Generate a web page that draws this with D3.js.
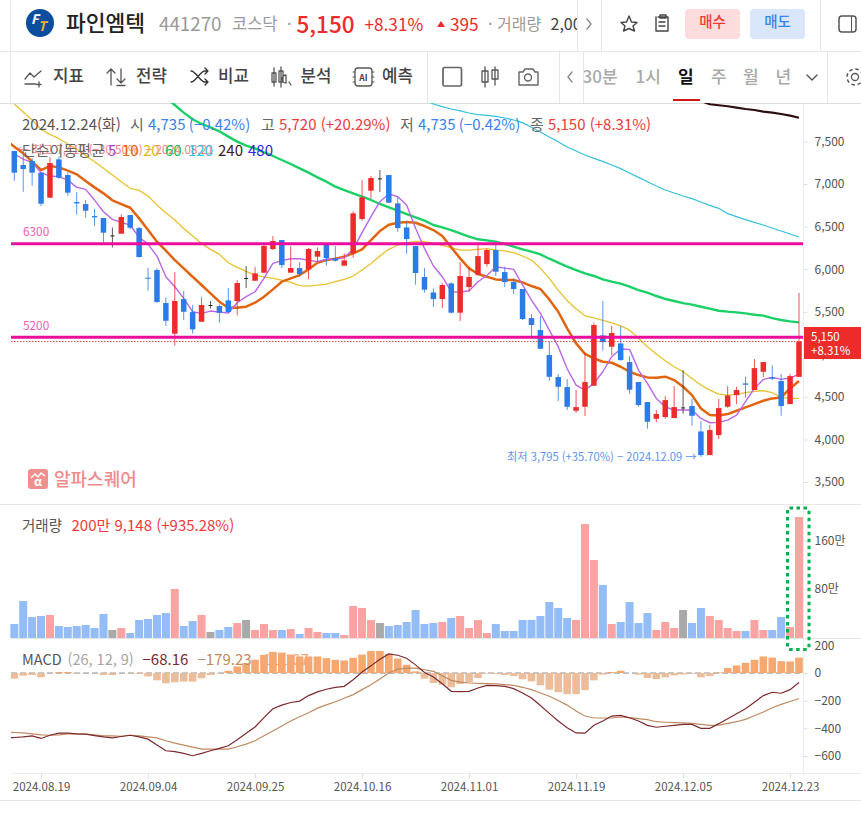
<!DOCTYPE html>
<html lang="ko"><head><meta charset="utf-8">
<script src="https://cdn.jsdelivr.net/npm/d3@7/dist/d3.min.js"></script>
<style>
html,body{margin:0;padding:0;background:#fff;overflow:hidden}
svg{display:block;font-family:"Noto Sans CJK KR","Noto Sans",sans-serif}
.axis path{display:none}
.axis text{font-family:"Noto Sans CJK KR","Noto Sans",sans-serif}
</style></head><body><div id="c"></div>
<script>
const opens=[7388,7224,7271,7134,6840,7290,7106,6789,6765,6624,6601,6397,6417,6636,6483,5900,5990,5602,5242,5649,5496,5383,5579,5567,5633,5626,5896,5864,5959,6237,6342,5959,6013,5998,6147,6288,6127,6041,6186,6589,6922,7067,7106,6773,6491,6272,5908,5727,5649,5833,5489,5790,5935,6060,6225,5966,5849,5767,5426,5285,4991,4733,4615,4337,4384,4631,5222,5089,5128,4909,4674,4439,4243,4263,4251,4376,4392,4094,3816,4051,4384,4521,4658,4580,4795,4729,4686,4415,4735];
const closes=[7134,7177,7134,6769,7247,7075,6899,6773,6687,6609,6429,6397,6613,6487,6143,5888,5614,5394,5626,5500,5293,5579,5579,5488,5496,5837,5896,5951,6272,6331,6049,6013,5943,6237,6213,6131,6100,6103,6656,6844,7071,7067,6781,6483,6354,5955,5759,5649,5814,5489,5919,5908,6154,6225,5970,5849,5767,5414,5344,5065,4736,4619,4384,4380,4674,5344,5144,5250,4932,4584,4404,4208,4298,4462,4380,4376,4278,3816,4110,4368,4517,4580,4643,4838,4909,4713,4392,4744,5150];
const highs=[7388,7400,7302,7134,7314,7322,7138,6906,6812,6707,6601,6491,6644,6636,6495,6013,6013,5669,5966,5743,5579,5669,5626,5586,5778,5872,6037,6025,6284,6389,6342,6272,6084,6248,6256,6288,6272,6186,6679,7047,7094,7165,7106,6852,6558,6272,6013,5774,5833,5845,6084,6029,6288,6241,6284,6029,5892,5767,5473,5449,5148,4768,4709,4580,5023,5375,5626,5332,5332,4979,4674,4439,4345,4509,4627,4815,4478,4216,4169,4474,4627,4619,4737,4944,4909,4870,4768,4768,5720];
const lows=[7040,6910,6981,6742,6840,7063,6863,6640,6605,6507,6319,6256,6417,6468,6135,5747,5606,5332,5101,5402,5242,5383,5539,5371,5488,5457,5778,5864,5951,6225,6013,5959,5912,5884,6088,6041,6088,6041,6135,6570,6832,6906,6781,6440,6182,5818,5724,5555,5543,5481,5391,5735,5927,6029,5919,5790,5708,5402,5214,5065,4689,4451,4345,4310,4274,4631,5042,4991,4925,4537,4384,4126,4204,4243,4251,4302,4161,3795,3816,4004,4372,4415,4490,4580,4733,4697,4278,4415,4735];
const ma5=[7353,7294,7255,7134,7094,7087,7047,6961,6938,6812,6675,6585,6550,6519,6374,6295,6154,5912,5794,5657,5500,5481,5508,5496,5485,5606,5677,5735,5892,6068,6100,6123,6123,6107,6088,6119,6115,6139,6233,6429,6617,6793,6883,6852,6754,6480,6244,6037,5912,5735,5731,5747,5853,5927,6029,6013,5998,5814,5637,5481,5285,5090,4830,4639,4580,4658,4795,4972,5062,5058,4815,4658,4482,4384,4345,4345,4345,4247,4196,4200,4227,4286,4443,4599,4705,4729,4705,4721,4768];
const ma10Start=-1;
const ma10=[7520,7439,7361,7263,7165,7212,7196,7157,7114,7036,6961,6891,6809,6765,6722,6597,6460,6323,6217,6107,6009,5911,5814,5716,5618,5547,5547,5559,5606,5677,5763,5853,5892,5931,5998,6076,6107,6123,6147,6186,6233,6342,6448,6523,6546,6554,6546,6507,6460,6389,6256,6127,6009,5943,5912,5880,5872,5872,5845,5802,5767,5645,5500,5304,5128,5005,4952,4913,4901,4854,4795,4756,4729,4725,4737,4697,4619,4521,4364,4286,4282,4298,4337,4376,4415,4454,4482,4494,4599,4686];
const ma20=[7941,7847,7753,7641,7584,7533,7470,7408,7337,7263,7185,7106,7028,6950,6926,6859,6754,6664,6577,6479,6389,6303,6233,6174,6076,6021,5974,5931,5911,5892,5872,5845,5806,5802,5814,5825,5853,5880,5919,5990,6068,6154,6233,6284,6311,6327,6323,6303,6280,6252,6225,6225,6233,6241,6225,6214,6194,6155,6108,6010,5892,5755,5630,5535,5452,5428,5400,5368,5334,5285,5187,5089,5003,4925,4854,4795,4717,4639,4580,4533,4521,4529,4549,4564,4572,4549,4494,4482,4482];
const ma60Start=17;
const ma60=[8010,7929,7839,7761,7706,7667,7620,7557,7498,7451,7420,7373,7330,7283,7236,7185,7134,7079,7028,6970,6930,6891,6852,6813,6766,6727,6688,6648,6609,6570,6519,6492,6460,6421,6382,6351,6339,6323,6296,6265,6233,6206,6174,6123,6076,6030,5990,5951,5920,5881,5853,5830,5794,5755,5724,5685,5650,5626,5602,5583,5559,5536,5512,5501,5493,5481,5465,5454,5426,5403,5387,5375];
const ma120Start=46;
const ma120=[7985,7941,7910,7882,7859,7835,7816,7808,7796,7776,7753,7722,7667,7612,7553,7498,7436,7389,7342,7302,7267,7224,7181,7130,7079,7028,6977,6930,6895,6860,6829,6789,6750,6715,6652,6617,6582,6550,6519,6484,6449,6413,6378];
const ma240Start=77;
const ma240=[7975,7937,7925,7914,7898,7882,7870,7851,7839,7823,7804,7780];
const volumesMan=[23.2,61.4,34.9,36.5,38.2,19.9,18.3,19.9,21.6,16.6,39.9,13.3,16.6,8.3,29.9,31.5,38.2,41.5,81.4,19.9,28.2,38.2,10,13.3,18.3,24.9,29.9,13.3,23.2,13.3,13.3,14.9,6.6,16.6,10,8.3,8.3,5,53.1,49.8,29.9,24.9,19.9,21.6,26.6,46.5,23.2,24.9,26.6,33.2,36.5,16.6,29.9,8.3,23.2,11.6,11.6,29.9,29.9,36.5,59.8,49.8,33.2,29.9,189.3,129.5,88,23.2,26.6,59.8,24.9,41.5,13.3,26.6,16.6,46.5,24.9,49.8,36.5,29.9,16.6,11.6,11.6,29.9,13.3,13.3,34.9,18.3,200.9];
const macdStart=-1;
const macdLine=[-470,-466,-462,-454,-473,-450,-435,-435,-440,-442,-452,-462,-469,-459,-450,-462,-478,-521,-562,-569,-581,-598,-581,-562,-545,-526,-483,-435,-390,-323,-258,-232,-213,-203,-163,-136,-117,-103,-96,-48,7,52,100,138,129,107,59,4,-29,-77,-132,-134,-132,-108,-89,-91,-96,-113,-144,-180,-235,-292,-347,-395,-433,-435,-378,-347,-311,-306,-323,-347,-378,-392,-385,-378,-371,-371,-400,-400,-366,-330,-294,-258,-211,-163,-139,-146,-120,-68];
const signalLine=[-428,-430,-433,-440,-447,-450,-447,-440,-440,-442,-447,-454,-454,-457,-450,-454,-462,-469,-490,-507,-521,-536,-550,-550,-550,-550,-533,-514,-490,-454,-419,-383,-347,-316,-287,-254,-230,-208,-182,-156,-120,-84,-43,0,28,35,35,24,12,-19,-53,-65,-72,-74,-77,-79,-84,-89,-103,-120,-144,-168,-199,-232,-275,-311,-325,-325,-325,-318,-323,-330,-337,-352,-356,-359,-361,-364,-371,-378,-376,-364,-352,-335,-309,-282,-251,-227,-206,-184];
const macdHist=[-41,-19,-14,-31,0,7,7,-5,0,0,-14,-14,0,-2,-7,-24,-53,-74,-67,-62,-62,-38,-14,-2,17,48,72,96,131,153,148,134,120,120,120,108,96,91,110,134,160,160,139,105,60,12,-41,-72,-84,-103,-79,-67,-36,-5,-7,-14,-22,-45,-60,-88,-120,-139,-153,-153,-124,-53,-12,7,17,0,-12,-36,-43,-31,-17,-10,-5,-31,-22,5,36,55,74,96,120,112,86,84,112];
const dateTickIdx=[3,15,27,39,51,63,75,87];
const dateTickLabels=["2024.08.19","2024.09.04","2024.09.25","2024.10.16","2024.11.01","2024.11.19","2024.12.05","2024.12.23"];
const priceTicks=[3500,4000,4500,5000,5500,6000,6500,7000,7500];
const volTicks=[80,160];
const macdTicks=[-600,-400,-200,0,200];
const hLevels=[6300,5200];
const lastClose=5150;

const W=861,H=814;
const svg=d3.select("#c").append("svg").attr("width",W).attr("height",H).attr("viewBox",[0,0,W,H]);
const RED="#ee2b2b",BLUE="#2b7be9",LINE="#e6e6e6";
const x=d3.scaleLinear().domain([0,88]).range([14.3,799]);
const y=d3.scaleLinear().domain([3500,7500]).range([482,141.5]);
const yVol=d3.scaleLinear().domain([0,200.9]).range([638,517]);
const yM=d3.scaleLinear().domain([-600,200]).range([756,645.4]);
const defs=svg.append("defs");
defs.append("clipPath").attr("id","pClip").append("rect").attr("x",11).attr("y",103).attr("width",792).attr("height",401);
defs.append("clipPath").attr("id","mClip").append("rect").attr("x",11).attr("y",640).attr("width",792).attr("height",133);
defs.append("clipPath").attr("id","hdClip").append("rect").attr("x",0).attr("y",0).attr("width",577).attr("height",51);
defs.append("clipPath").attr("id","tabClip").append("rect").attr("x",583.5).attr("y",52).attr("width",243).attr("height",51);

function rule(a,b,c,d,col){svg.append("line").attr("x1",a).attr("y1",b).attr("x2",c).attr("y2",d).attr("stroke",col||LINE).attr("stroke-width",1).attr("shape-rendering","crispEdges");}
function txt(g,s,tx,ty,size,col,opt){opt=opt||{};const t=g.append("text").attr("x",tx).attr("y",ty).attr("font-size",size).attr("fill",col).text(s);
 if(opt.w)t.attr("font-weight",opt.w); if(opt.a)t.attr("text-anchor",opt.a); if(opt.o)t.attr("opacity",opt.o); return t;}

// frame rules
rule(0,51.5,W,51.5);rule(0,103.5,W,103.5,"#dedede");
rule(10.5,0,10.5,103);
[577.5,601.5,820.5].forEach(v=>rule(v,0,v,51));
[427.5,559.5,583.5,827.5].forEach(v=>rule(v,52,v,103));
rule(803.5,104,803.5,773,"#ececec");
rule(0,504.5,W,504.5);rule(11,638.5,861,638.5);rule(11,773.5,861,773.5,"#ececec");rule(0,800.5,W,800.5);

// price pane
const pane=svg.append("g").attr("clip-path","url(#pClip)");
function lineOf(vals,start,yS){return d3.line().x((d,i)=>x(i+start)).y(d=>yS(d)).curve(d3.curveLinear)(vals);}
[[ma240,ma240Start,"#2d0d0f",2.1],[ma120,ma120Start,"#36bfe0",1.2],[ma60,ma60Start,"#1cd068",2.4],[ma20,0,"#e9c22f",1.3],[ma10,ma10Start,"#e1650f",2.5],[ma5,0,"#bb66e6",1.4]].forEach(s=>{
 pane.append("path").attr("d",lineOf(s[0],s[1],y)).attr("fill","none").attr("stroke",s[2]).attr("stroke-width",s[3]).attr("stroke-linejoin","round");
});
const idx=d3.range(opens.length);
const colorOf=i=>closes[i]>opens[i]?RED:closes[i]<opens[i]?BLUE:"#222";
pane.selectAll("line.w").data(idx).join("line").attr("class","w")
 .attr("x1",i=>x(i)).attr("x2",i=>x(i)).attr("y1",i=>y(highs[i])).attr("y2",i=>y(lows[i]))
 .attr("stroke",colorOf).attr("stroke-width",1).attr("stroke-opacity",i=>closes[i]===opens[i]?0.75:0.8);
pane.selectAll("rect.b").data(idx).join("rect").attr("class","b")
 .attr("x",i=>x(i)-(closes[i]===opens[i]?2:2.75)).attr("width",i=>closes[i]===opens[i]?4:5.5)
 .attr("y",i=>y(Math.max(opens[i],closes[i]))).attr("height",i=>Math.max(1,Math.abs(y(opens[i])-y(closes[i]))))
 .attr("fill",colorOf);
// horizontal levels
pane.selectAll("line.lv").data(hLevels).join("line").attr("class","lv").attr("x1",11).attr("x2",803).attr("y1",d=>y(d)).attr("y2",d=>y(d)).attr("stroke","#ec0d9d").attr("stroke-width",3);
pane.selectAll("text.lv").data(hLevels).join("text").attr("class","lv").attr("x",23).attr("y",d=>y(d)-7.5).attr("font-size",11.8).attr("fill","#f15cb4").text(d=>d);
pane.append("line").attr("x1",11).attr("x2",803).attr("y1",y(lastClose)).attr("y2",y(lastClose)).attr("stroke",RED).attr("stroke-width",1).attr("stroke-dasharray","1.5,1.5").attr("opacity",.85);

// price axis
const axP=svg.append("g").attr("class","axis").attr("transform","translate(803.5,0)").call(d3.axisRight(y).tickValues(priceTicks).tickSize(4).tickPadding(7).tickFormat(d3.format(",")));
axP.selectAll("line").attr("stroke","#ddd");axP.selectAll("text").attr("font-size",12).attr("fill","#555");
// price tag
svg.append("rect").attr("x",804).attr("y",327).attr("width",57).attr("height",32).attr("fill",RED);
txt(svg,"5,150",811,340.5,11.5,"#fff");txt(svg,"+8.31%",811,354.5,11.5,"#fff");

// info texts
const ix=svg.append("g");const F=15;
txt(ix,"2024.12.24(화)",22,129.5,F,"#555");txt(ix,"시",130,129.5,F,"#666");txt(ix,"4,735 (−0.42%)",148,129.5,F,"#3b82ee");
txt(ix,"고",261,129.5,F,"#666");txt(ix,"5,720 (+20.29%)",279,129.5,F,"#ee3b3b");
txt(ix,"저",400,129.5,F,"#666");txt(ix,"4,735 (−0.42%)",418,129.5,F,"#3b82ee");
txt(ix,"종",530,129.5,F,"#666");txt(ix,"5,150 (+8.31%)",548,129.5,F,"#ee3b3b");
txt(ix,"← 최고 7,410 (−30.50%) − 2024.08.21",17,154,11.6,"#f05a5a",{o:.8});
txt(ix,"단순이동평균",22,155.5,F,"#666");
[["5",108,"#a63de0"],["10",122,"#e1650f"],["20",143,"#e0b820"],["60",165,"#1cc060"],["120",188,"#36bfe0"],["240",218,"#3a1c1c"],["480",248,"#2a2ad8"]].forEach(l=>txt(ix,l[0],l[1],155.5,F,l[2]));

// low marker
txt(svg,"최저 3,795 (+35.70%) − 2024.12.09 →",507,461,11.2,"#5b95ee");

// watermark
const wm=svg.append("g").attr("transform","translate(28,469)");
wm.append("rect").attr("width",20).attr("height",20).attr("rx",3).attr("fill","#ef8f8f");
wm.append("path").attr("d","M3 9 L7 5 L10 8 L13 4 L17 7").attr("fill","none").attr("stroke","#fff").attr("stroke-width",1.4);
txt(wm,"α",10,17,12,"#fff",{a:"middle",w:700});
txt(svg,"알파스퀘어",54,485.5,18,"#ee8c8c",{w:500});

// volume
const volCol=i=>closes[i]>opens[i]?"#f9a3a3":closes[i]<opens[i]?"#94bcf6":"#a9a9a9";
svg.append("g").selectAll("rect").data(idx).join("rect")
 .attr("x",i=>x(i)-4).attr("width",8).attr("y",i=>yVol(volumesMan[i])).attr("height",i=>yVol(0)-yVol(volumesMan[i])).attr("fill",volCol);
const axV=svg.append("g").attr("class","axis").attr("transform","translate(803.5,-1)").call(d3.axisRight(yVol).tickValues(volTicks).tickSize(4).tickPadding(7).tickFormat(d=>d+"만"));
axV.selectAll("line").attr("stroke","#ddd");axV.selectAll("text").attr("font-size",12).attr("fill","#555");
txt(svg,"거래량",22,530.5,14.5,"#555");txt(svg,"200만 9,148 (+935.28%)",71.5,530.5,15,"#ee3b3b");

// MACD
const mg=svg.append("g").attr("clip-path","url(#mClip)");
txt(mg,"111.07",263,665,15,"#f4a671");
mg.append("line").attr("x1",11).attr("x2",803).attr("y1",yM(0)).attr("y2",yM(0)).attr("stroke","#888").attr("stroke-dasharray","6,3");
mg.selectAll("rect").data(idx.filter(i=>macdHist[i]!==0)).join("rect")
 .attr("x",i=>x(i)-3.8).attr("width",7.6).attr("y",i=>Math.min(yM(0),yM(macdHist[i]))).attr("height",i=>Math.abs(yM(macdHist[i])-yM(0)))
 .attr("fill",i=>macdHist[i]>0?"#f5a872":"#ebbd9b");
mg.append("path").attr("d",lineOf(signalLine,macdStart,yM)).attr("fill","none").attr("stroke","#c08a60").attr("stroke-width",1.2);
mg.append("path").attr("d",lineOf(macdLine,macdStart,yM)).attr("fill","none").attr("stroke","#7d2a2e").attr("stroke-width",1.2);
const axM=svg.append("g").attr("class","axis").attr("transform","translate(803.5,0)").call(d3.axisRight(yM).tickValues(macdTicks).tickSize(4).tickPadding(7).tickFormat(d=>d<0?"−"+(-d):d));
axM.selectAll("line").attr("stroke","#ddd");axM.selectAll("text").attr("font-size",12).attr("fill","#555");
txt(svg,"MACD",22,665,14.5,"#555");txt(svg,"(26, 12, 9)",67.5,665,14.5,"#a5a5a5");txt(svg,"−68.16",142.5,665,15,"#7d2a2e");txt(svg,"−179.23",197.5,665,15,"#c08a60");

// time axis
const axT=svg.append("g").attr("class","axis").attr("transform","translate(0,773.5)").call(d3.axisBottom(x).tickValues(dateTickIdx).tickSize(5).tickPadding(4).tickFormat((d,i)=>dateTickLabels[i]));
axT.selectAll("line").attr("stroke","#ddd");axT.selectAll("text").attr("font-size",11.5).attr("fill","#555");

// highlight box
svg.append("rect").attr("x",787.5).attr("y",508).attr("width",21.5).attr("height",141.5).attr("rx",2).attr("fill","none").attr("stroke","#06b050").attr("stroke-width",3).attr("stroke-dasharray","3.5,3.5");

// header
const hd=svg.append("g").attr("clip-path","url(#hdClip)");
hd.append("circle").attr("cx",40).attr("cy",23).attr("r",14).attr("fill","#0c4d9e");
txt(hd,"F",31,24,13,"#fff",{w:700}).attr("font-style","italic");
txt(hd,"T",38,31,13,"#f2b233",{w:700}).attr("font-style","italic");
txt(hd,"파인엠텍",66,31,21.5,"#222",{w:500});
txt(hd,"441270",159,30.5,18.8,"#999");
txt(hd,"코스닥",232,30,16.5,"#999");txt(hd,"·",287,30,16,"#999");
txt(hd,"5,150",296.5,32.5,22.5,RED,{w:500});txt(hd,"+8.31%",364.5,30.5,17.2,RED);
hd.append("path").attr("d","M437 27L441 21L445 27Z").attr("fill",RED);
txt(hd,"395",450,30.5,17.2,RED);txt(hd,"· 거래량",488,30,16,"#999");txt(hd,"2,009,148",550.5,30,16,"#444");
function ic(d,sw,col){svg.append("path").attr("d",d).attr("fill","none").attr("stroke",col||"#444").attr("stroke-width",sw||1.4).attr("stroke-linecap","round").attr("stroke-linejoin","round");}
ic("M587 19L591 24L587 29",1.3,"#888");
ic("M629 16L631.5 22L637 22.5L633 26L634.5 31L629 28.5L623.5 31L625 26L621 22.5L626.500 22Z",1.4);
ic("M658 17H668V31H656V17M660 15H666V18H660ZM659 22H665M659 26H665",1.4);
svg.append("rect").attr("x",685).attr("y",9).attr("width",55).attr("height",30).attr("rx",4).attr("fill","#fcdcdc");
svg.append("rect").attr("x",750).attr("y",9).attr("width",55).attr("height",30).attr("rx",4).attr("fill","#dae7fb");
txt(svg,"매수",712.5,27,14.5,"#f03a3a",{a:"middle",w:500});txt(svg,"매도",777.500,27,14.5,"#3a82ee",{a:"middle",w:500});
svg.append("rect").attr("x",839).attr("y",16).attr("width",17).attr("height",16).attr("rx",3).attr("fill","none").attr("stroke","#555").attr("stroke-width",1.5);
rule(851,16,851,32,"#555");

// toolbar
const TY=82,TF=16.8;
ic("M25 79L30 73L34 77L41 71M25 84H36M39 82V87M37 84.5H41",1.3,"#555");
txt(svg,"지표",53,TY,TF,"#444",{w:500});
ic("M111 85V69M107 73L111 69L115 73M121 69V83M117 79L121 83L125 79M117 85.500H125",1.3,"#555");
txt(svg,"전략",136,TY,TF,"#444",{w:500});
ic("M191 71C196 71 200 82 205 82H208M191 82C196 82 200 71 205 71H208M205 68L208 71L205 74M205 79L208 82L205 85",1.3,"#333");
txt(svg,"비교",218,TY,TF,"#444",{w:500});
ic("M274 68V86M272 73H276V82H272ZM281 67V87M279 71H283V82H279ZM286 75A4 4 0 1 0 286.100 83ZM289 82L291 85",1.3,"#555");
txt(svg,"분석",300.500,TY,TF,"#444",{w:500});
svg.append("rect").attr("x",355).attr("y",68).attr("width",17).attr("height",18).attr("rx",3).attr("fill","none").attr("stroke","#555").attr("stroke-width",1.3);
txt(svg,"AI",363.500,81,8.5,"#444",{a:"middle",w:700});
ic("M353 72H355M353 77H355M353 82H355M372 72H374M372 77H374M372 82H374",1,"#555");
txt(svg,"예측",382,TY,TF,"#444",{w:500});
svg.append("rect").attr("x",443).attr("y",67.500).attr("width",18.500).attr("height",18.500).attr("rx",1.500).attr("fill","none").attr("stroke","#666").attr("stroke-width",1.700);
ic("M485 67V87M482 71H488V82H482ZM495 67V85M492 70H498V79H492Z",1.3,"#555");
ic("M519 72H523L525 69H533L535 72H538V85H519Z",1.4,"#666");
svg.append("circle").attr("cx",528).attr("cy",77.500).attr("r",3.500).attr("fill","none").attr("stroke","#666").attr("stroke-width",1.400);
ic("M572 72L568 77L572 82",1.3,"#888");
const tb=svg.append("g").attr("clip-path","url(#tabClip)");
txt(tb,"30분",582.5,82.5,17,"#aaa",{w:500});txt(tb,"1시",635.5,82.5,17,"#aaa",{w:500});
txt(tb,"일",678,82.5,17,"#111",{w:700});txt(tb,"주",711,82.5,17,"#aaa",{w:500});txt(tb,"월",743,82.5,17,"#aaa",{w:500});txt(tb,"년",775.5,82.5,17,"#aaa",{w:500});
ic("M807 75L812 80L817 75",1.4,"#555");
svg.append("rect").attr("x",673).attr("y",99).attr("width",27).attr("height",2).attr("fill","#d01818");
svg.append("circle").attr("cx",855).attr("cy",77).attr("r",3.500).attr("fill","none").attr("stroke","#555").attr("stroke-width",1.300);
svg.append("circle").attr("cx",855).attr("cy",77).attr("r",8).attr("fill","none").attr("stroke","#555").attr("stroke-width",1.500).attr("stroke-dasharray","3.500,2.800");
</script></body></html>
